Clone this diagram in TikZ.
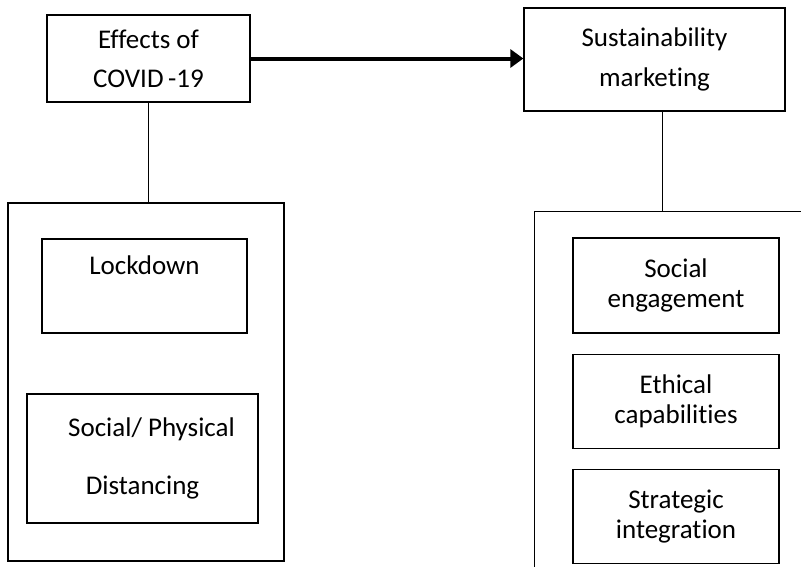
\documentclass[tikz,border=0pt]{standalone}
\usepackage{fontspec}
\setmainfont{Carlito}[Ligatures=NoCommon]
\usetikzlibrary{positioning,arrows.meta}

\begin{document}
\begin{tikzpicture}[
    x=1pt,
    y=-1pt,
    itembox/.style={
        draw,
        line width=1.3pt,
        align=center,
        inner sep=0pt,
        font=\fontsize{27}{30}\selectfont
    },
    subbox/.style={
        itembox,
        minimum width=206pt,
        minimum height=94pt
    },
    panel/.style={
        draw,
        line width=1.3pt,
        inner sep=0pt
    },
    link/.style={
        line width=1.3pt
    },
    flow/.style={
        -{Triangle[length=13pt,width=18pt]},
        line width=4pt
    }
]

\useasboundingbox (0,0) rectangle (801,566);
\clip (0,0) rectangle (801,566);

%%%%%%%%%%%%%%%%%%%%%%%%%%%%%%%%%%%%%%%%%%%%%%%%%%%%
%% Top boxes
%%%%%%%%%%%%%%%%%%%%%%%%%%%%%%%%%%%%%%%%%%%%%%%%%%%%

\node[itembox, minimum width=203pt, minimum height=87pt] (covid)
at (148.5,58.5) {Effects of\\[9pt]COVID\,-19};

\node[itembox, minimum width=261pt, minimum height=103pt] (sust)
at (654.5,59.5) {Sustainability\\[10pt]marketing};

\draw[flow] (covid.east) -- (covid.east -| sust.west);

%%%%%%%%%%%%%%%%%%%%%%%%%%%%%%%%%%%%%%%%%%%%%%%%%%%%
%% Effects of COVID-19
%%%%%%%%%%%%%%%%%%%%%%%%%%%%%%%%%%%%%%%%%%%%%%%%%%%%

\node[panel, minimum width=276pt, minimum height=358pt] (leftpanel)
at (146,382) {};

\node[itembox, minimum width=205pt, minimum height=94pt] (lockdown)
at (144.5,286) {Lockdown\\[11pt]\mbox{}};

\node[itembox, minimum width=231pt, minimum height=129pt] (distancing)
at (142.5,458.5) {\hspace*{18pt}Social/ Physical\\[28pt]Distancing};

\draw[link] (covid.south) -- (covid.south |- leftpanel.north);

%%%%%%%%%%%%%%%%%%%%%%%%%%%%%%%%%%%%%%%%%%%%%%%%%%%%
%% Sustainability marketing
%%%%%%%%%%%%%%%%%%%%%%%%%%%%%%%%%%%%%%%%%%%%%%%%%%%%

\node[panel, minimum width=300pt, minimum height=400pt, anchor=north west]
(rightpanel) at (534,211) {};

\node[subbox, minimum height=95pt] (engagement)
at (676,285.5) {Social\\engagement};

\node[subbox, below=20pt of engagement] (ethical)
{Ethical\\capabilities};

\node[subbox, below=20pt of ethical] (strategic)
{Strategic\\integration};

\draw[link] ([xshift=8pt]sust.south) coordinate (sustdrop)
    -- (sustdrop |- rightpanel.north);

\end{tikzpicture}
\end{document}
